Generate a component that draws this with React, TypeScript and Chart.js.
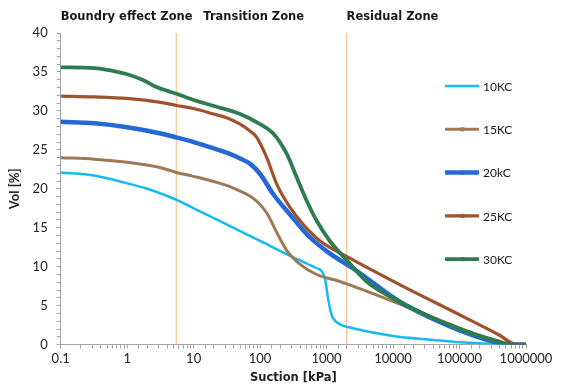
import React, { useEffect, useRef } from "react";
import { Chart, registerables } from "chart.js";

Chart.register(...registerables);

const seriesLabels = ["10KC", "15KC", "20kC", "25KC", "30KC"];
const seriesColors = ["#17BAF2", "#9C7A56", "#2469D6", "#A0522D", "#2E7D4E"];
const seriesWidths = [2.5, 3, 4.5, 3.2, 3.8];

const suction10 = [0.1, 0.32, 1, 2, 3.2, 5.5, 10, 32, 100, 316, 427, 710, 850, 960, 1050, 1150, 1250, 1600, 2500, 10000, 40000, 100000, 316000, 600000, 1000000];
const vol10 = [22.1, 21.7, 20.7, 20.0, 19.4, 18.6, 17.5, 15.4, 13.3, 11.2, 10.7, 9.8, 9.4, 8.2, 6.0, 4.3, 3.4, 2.6, 2.1, 1.1, 0.6, 0.3, 0.1, 0, 0];

const suction15 = [0.1, 0.32, 1, 3.2, 5.5, 10, 32, 50, 66, 89, 126, 178, 251, 400, 710, 1580, 2500, 12600, 40000, 126000, 400000, 650000, 1000000];
const vol15 = [24.0, 23.8, 23.4, 22.7, 22.1, 21.6, 20.4, 19.7, 19.2, 18.4, 16.9, 14.4, 12.1, 10.3, 9.0, 8.1, 7.5, 5.2, 3.5, 1.8, 0.4, 0, 0];

const suction20 = [0.1, 0.32, 1, 3.2, 5.5, 10, 32, 50, 71, 100, 158, 282, 500, 1000, 2000, 2500, 12600, 40000, 126000, 316000, 550000, 1000000];
const vol20 = [28.6, 28.4, 27.9, 27.1, 26.6, 26.0, 24.6, 23.9, 23.2, 21.9, 19.3, 16.7, 14.2, 12.0, 10.3, 9.8, 5.5, 3.3, 1.5, 0.4, 0, 0];

const suction25 = [0.1, 0.32, 1, 3.2, 5.5, 10, 20, 32, 50, 71, 89, 126, 178, 282, 447, 800, 2240, 12600, 126000, 400000, 720000, 1000000];
const vol25 = [31.9, 31.8, 31.6, 31.1, 30.7, 30.3, 29.6, 29.1, 28.3, 27.4, 26.6, 24.0, 20.6, 17.6, 15.4, 13.3, 11.1, 7.7, 3.4, 1.2, 0, 0];

const suction30 = [0.1, 0.32, 0.56, 1, 1.8, 2.7, 5.5, 10, 21, 50, 100, 158, 251, 354, 500, 710, 1120, 2240, 4000, 12600, 40000, 126000, 350000, 630000, 1000000];
const vol30 = [35.6, 35.5, 35.2, 34.7, 33.9, 33.1, 32.2, 31.4, 30.6, 29.6, 28.3, 27.1, 24.5, 21.5, 18.5, 15.9, 13.3, 10.4, 8.1, 5.5, 3.4, 1.7, 0.5, 0, 0];

const zoneBoundaries = [5.5, 2000];
const zoneNames = ["Boundry effect Zone", "Transition Zone", "Residual Zone"];
const zoneNameSuction = [0.1, 14, 2000];

const yMin = 0;
const yMax = 40;
const xMin = 0.1;
const xMax = 1000000;

const allSuction = [suction10, suction15, suction20, suction25, suction30];
const allVol = [vol10, vol15, vol20, vol25, vol30];

const isPow10 = (v: number) => {
  const l = Math.log10(v);
  return Math.abs(l - Math.round(l)) < 1e-9;
};

const titleFont = "'DejaVu Sans', Verdana, sans-serif";
const tickFont = "Lato, 'Open Sans', sans-serif";

export default function App() {
  const ref = useRef<HTMLCanvasElement>(null);

  useEffect(() => {
    document.body.style.margin = "0";
    const canvas = ref.current;
    if (!canvas) return;

    const datasets: any[] = allSuction.map((xs, i) => ({
      label: seriesLabels[i],
      data: xs.map((x, j) => ({ x, y: allVol[i][j] })),
      borderColor: seriesColors[i],
      backgroundColor: seriesColors[i],
      borderWidth: seriesWidths[i],
      pointRadius: 0,
      fill: false,
      cubicInterpolationMode: "monotone",
      order: 5 - i,
    }));

    zoneBoundaries.forEach((b) => {
      datasets.push({
        label: "zone",
        data: [
          { x: b, y: yMin },
          { x: b, y: yMax },
        ],
        borderColor: "#F3CBA0",
        borderWidth: 1.5,
        pointRadius: 0,
        fill: false,
        order: 10,
      });
    });

    const overlay = {
      id: "overlay",
      afterDraw(chart: any) {
        const ctx = chart.ctx;
        const xs = chart.scales.x;
        ctx.save();
        ctx.font = "bold 11.5px " + titleFont;
        ctx.fillStyle = "#1a1a1a";
        ctx.textBaseline = "middle";
        ctx.textAlign = "left";
        zoneNames.forEach((n, i) => {
          ctx.fillText(n, xs.getPixelForValue(zoneNameSuction[i]), 17);
        });
        const area = chart.chartArea;
        const lx = area.right - 81;
        const top = 86;
        const gap = 43.3;
        seriesLabels.forEach((lab, i) => {
          const y = top + i * gap;
          ctx.strokeStyle = seriesColors[i];
          ctx.lineWidth = seriesWidths[i];
          ctx.beginPath();
          ctx.moveTo(lx, y);
          ctx.lineTo(lx + 34, y);
          ctx.stroke();
          if (i > 0) {
            ctx.fillStyle = seriesColors[i];
            ctx.fillRect(lx + 15.5, y - 2, 4, 4);
          }
          ctx.fillStyle = "#1a1a1a";
          ctx.font = "12px " + tickFont;
          ctx.textAlign = "left";
          ctx.textBaseline = "middle";
          ctx.fillText(lab, lx + 38, y + 1);
        });
        ctx.restore();
      },
    };

    const chart = new Chart(canvas, {
      type: "line",
      data: { datasets },
      plugins: [overlay],
      options: {
        animation: false,
        responsive: false,
        maintainAspectRatio: false,
        layout: { padding: { top: 33, left: 7, right: 40, bottom: 6 } },
        plugins: {
          legend: { display: false },
          tooltip: { enabled: false },
        },
        scales: {
          x: {
            type: "logarithmic",
            min: xMin,
            max: xMax,
            border: { color: "#A6A6A6", width: 1 },
            grid: { drawOnChartArea: false, drawTicks: true, tickLength: 4, color: "#A6A6A6" },
            ticks: {
              autoSkip: false,
              maxRotation: 0,
              color: "#222",
              font: { size: 13, family: tickFont },
              padding: 2,
              callback: (v: any) => (isPow10(Number(v)) ? String(Number(v)) : ""),
            },
            title: {
              display: true,
              text: "Suction [kPa]",
              color: "#222",
              font: { size: 11.5, family: titleFont, weight: "bold" },
              padding: { top: 3, bottom: 0 },
            },
          },
          y: {
            type: "linear",
            min: yMin,
            max: yMax,
            border: { color: "#A6A6A6", width: 1 },
            grid: { drawOnChartArea: false, drawTicks: true, tickLength: 4, color: "#A6A6A6" },
            ticks: {
              stepSize: 1,
              autoSkip: false,
              color: "#222",
              font: { size: 13, family: tickFont },
              padding: 9,
              callback: (v: any) => (Number(v) % 5 === 0 ? String(v) : ""),
            },
            title: {
              display: true,
              text: "Vol [%]",
              color: "#222",
              font: { size: 13, family: tickFont, weight: "bold" },
              padding: { top: 0, bottom: 1 },
            },
          },
        },
      },
    } as any);

    return () => chart.destroy();
  }, []);

  return (
    <div style={{ width: 566, height: 391 }}>
      <canvas ref={ref} width={566} height={391} style={{ display: "block" }} />
    </div>
  );
}
